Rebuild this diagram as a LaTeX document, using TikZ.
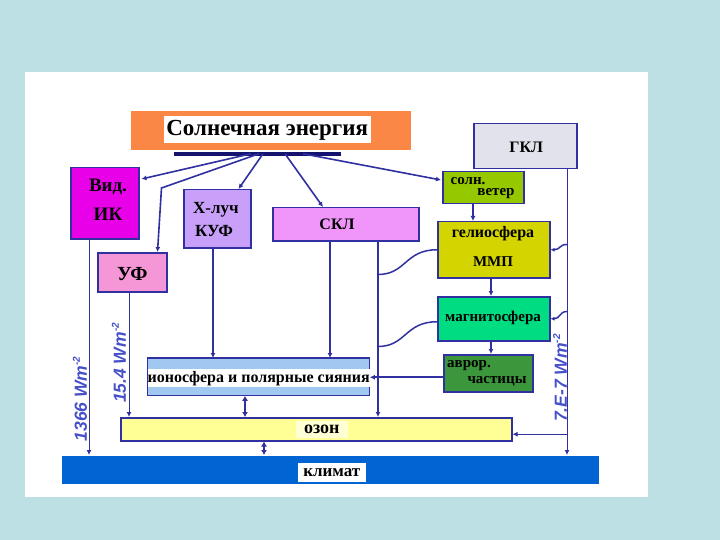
\documentclass[tikz,border=0pt]{standalone}
\usepackage{fontspec}
\setmainfont{Liberation Serif}
\newfontfamily\lblfont{Liberation Sans}
\usetikzlibrary{arrows.meta,calc}
\definecolor{bgc}{RGB}{188,224,228}
\definecolor{navy}{RGB}{48,48,160}
\definecolor{darknavy}{RGB}{20,20,110}
\definecolor{sunc}{RGB}{250,135,70}
\definecolor{vidc}{RGB}{232,0,232}
\definecolor{ufc}{RGB}{245,150,215}
\definecolor{xrc}{RGB}{200,160,250}
\definecolor{sklc}{RGB}{240,150,250}
\definecolor{gklc}{RGB}{226,226,236}
\definecolor{swc}{RGB}{150,200,0}
\definecolor{helc}{RGB}{212,212,0}
\definecolor{magc}{RGB}{0,220,130}
\definecolor{avrc}{RGB}{60,150,60}
\definecolor{ionc}{RGB}{160,200,240}
\definecolor{ozc}{RGB}{255,255,150}
\definecolor{klc}{RGB}{0,100,210}
\definecolor{lblc}{RGB}{70,80,200}
\newcommand{\fs}[1]{\bfseries\fontsize{#1}{#1}\selectfont}
\newcommand{\supm}{\raisebox{0.75ex}{\fontsize{10}{10}\selectfont -2}}
\begin{document}
\begin{tikzpicture}[x=1pt,y=-1pt,
  box/.style={draw=navy, line width=1.5pt, inner sep=0pt, anchor=north west},
  txt/.style={inner sep=0pt, font=\bfseries, text=black},
  arr/.style={draw=navy, line width=1.6pt, -{Latex[length=5pt,width=5pt]}},
  thinarr/.style={draw=navy, line width=1pt, -{Latex[length=5pt,width=5pt]}},
  dblarr/.style={draw=navy, line width=1.6pt, {Latex[length=5pt,width=6pt]}-{Latex[length=5pt,width=6pt]}},
  wave/.style={draw=navy, line width=1.5pt},
  lbl/.style={rotate=90, inner sep=0pt, text=lblc, font=\lblfont\bfseries\itshape\fontsize{17.5}{17.5}\selectfont}]
\useasboundingbox (0,0) rectangle (720,540);
\fill[bgc] (0,0) rectangle (720,540);
\fill[white] (25,72) rectangle (648,497);

% sun
\node[box, draw=none, fill=sunc, minimum width=280, minimum height=39] (sun) at (130,110) {};
\node[box, draw=none, fill=white, minimum width=207, minimum height=27] (sunlbl) at (163,115) {};
\node[txt, font=\fs{23}] (suntxt) at ($(sunlbl.center)+(0,1)$) {Солнечная энергия};
\node[box, draw=none, fill=darknavy, minimum width=167, minimum height=4] (bar) at (173,151) {};

% boxes
\node[box, fill=vidc, minimum width=68, minimum height=71] (vid) at (70,167) {};
\node[txt, font=\fs{19}] (vidtxt1) at (108,187) {Вид.};
\node[txt, font=\fs{19}] (vidtxt2) at (108,214) {ИК};
\node[box, fill=ufc, minimum width=69, minimum height=39] (uf) at (97,252) {};
\node[txt, font=\fs{20}] (uftxt) at ($(uf.center)+(0,2)$) {УФ};
\node[box, fill=xrc, minimum width=67, minimum height=58] (xr) at (183,189) {};
\node[txt, font=\fs{17}] (xrtxt1) at (216,210) {Х-луч};
\node[txt, font=\fs{17}] (xrtxt2) at (214,231) {КУФ};
\node[box, fill=sklc, minimum width=146, minimum height=33] (skl) at (272,207) {};
\node[txt, font=\fs{16}] (skltxt) at (337,224) {СКЛ};
\node[box, fill=gklc, minimum width=103, minimum height=45] (gkl) at (473,123) {};
\node[txt, font=\fs{16}] (gkltxt) at ($(gkl.center)+(1,1)$) {ГКЛ};
\node[box, fill=swc, minimum width=81, minimum height=32] (sw) at (442,171) {};
\node[txt, font=\fs{15}] (swtxt1) at (468,181) {солн.};
\node[txt, font=\fs{15}] (swtxt2) at (496,194) {ветер};
\node[box, fill=helc, minimum width=112, minimum height=56] (hel) at (437,221) {};
\node[txt, font=\fs{16}] (heltxt1) at (493,234) {гелиосфера};
\node[txt, font=\fs{15}] (heltxt2) at (493,262) {ММП};
\node[box, fill=magc, minimum width=112, minimum height=44] (mag) at (437,296) {};
\node[txt, font=\fs{15}] (magtxt) at (493,318) {магнитосфера};
\node[box, fill=avrc, minimum width=89, minimum height=37] (avr) at (443,354) {};
\node[txt, font=\fs{15}] (avrtxt1) at (469,366) {авpор.};
\node[txt, font=\fs{15}] (avrtxt2) at (497,381) {частицы};

% ionosphere
\node[box, draw=navy, line width=0.8pt, fill=ionc, minimum width=222, minimum height=37] (ion) at (147,358) {};
\draw[navy, line width=2pt] (ion.north west) -- (ion.north east);
\node[box, draw=none, fill=white, minimum width=222, minimum height=18] (ionband) at (147,368) {};
\node[txt, font=\fs{16}] (iontxt) at ($(ionband.center)+(0,1)$) {ионосфера и полярные сияния};

% ozone
\node[box, fill=ozc, minimum width=391, minimum height=23] (oz) at (120,417) {};
\node[box, draw=none, fill=white!60!ozc, minimum width=52, minimum height=17] (ozlbl) at (295,420) {};
\node[txt, font=\fs{18}] (oztxt) at ($(ozlbl.center)+(0,0)$) {озон};

% climate
\node[box, draw=none, fill=klc, minimum width=537, minimum height=28] (kl) at (61,455) {};
\node[box, draw=none, fill=white, minimum width=68, minimum height=19] (kllbl) at (297,462) {};
\node[txt, font=\fs{17}] (kltxt) at ($(kllbl.center)+(0,0)$) {климат};

% coordinates on the bar
\coordinate (s1) at ($(bar.west)+(78,0)$);
\coordinate (s2) at ($(bar.west)+(86,0)$);
\coordinate (s3) at ($(bar.west)+(90,0)$);
\coordinate (s4) at ($(bar.west)+(112,0)$);
\coordinate (s5) at ($(bar.west)+(130,0)$);

% arrows from the sun
\draw[arr] (s1) -- ($(vid.north east)+(2,12)$);
\coordinate (ufb) at ($(uf.north east)+(-10,-64)$);
\draw[arr] (s2) -- ($(ufb)+(4,0)$) -- ($(uf.north east)+(-10,0)$);
\draw[arr] (s3) -- ($(xr.north east)+(-13,0)$);
\draw[arr] (s4) -- ($(skl.north west)+(51,0)$);
\draw[arr] (s5) -- ($(sw.north west)+(-1,9)$);

% verticals
\coordinate (v1) at ($(vid.south west)+(19,0)$);
\draw[thinarr] (v1) -- (v1 |- kl.north);
\coordinate (v2) at ($(uf.south west)+(32,0)$);
\draw[thinarr] (v2) -- (v2 |- oz.north);
\coordinate (v3) at ($(xr.south west)+(30,0)$);
\draw[arr, line width=2.2pt] (v3) -- (v3 |- ion.north);
\coordinate (v4) at ($(skl.south west)+(58,0)$);
\draw[arr] (v4) -- (v4 |- ion.north);
\coordinate (v5) at ($(skl.south west)+(106,0)$);
\draw[arr] (v5) -- (v5 |- oz.north);
\coordinate (v6) at ($(sw.south west)+(31,0)$);
\draw[arr] (v6) -- (v6 |- hel.north);
\coordinate (v7) at ($(hel.south west)+(54,0)$);
\draw[arr] (v7) -- (v7 |- mag.north);
\coordinate (v8) at ($(mag.south west)+(54,0)$);
\draw[arr] (v8) -- (v8 |- avr.north);
\coordinate (v9) at ($(gkl.south west)+(94,0)$);
\draw[thinarr] (v9) -- (v9 |- kl.north);
\coordinate (v10) at ($(v9 |- oz.east)+(0,5)$);
\draw[thinarr, line width=1.2pt] (v10) -- (v10 -| oz.east);

% aurora particles to ionosphere
\coordinate (a1) at ($(avr.west)+(0,4)$);
\draw[arr] (a1) -- (a1 -| ion.east);

% double arrows
\coordinate (d1) at ($(ion.south west)+(98,0)$);
\draw[dblarr] (d1) -- (d1 |- oz.north);
\coordinate (d2) at ($(oz.south west)+(144,0)$);
\draw[dblarr] (d2) -- (d2 |- kl.north);

% wavy links
\coordinate (w1) at ($(v5)+(0,33)$);
\draw[wave] (w1) .. controls ($(w1)+(28,0)$) and ($(hel.west)+(-32,0)$) .. (hel.west);
\coordinate (w2) at ($(v5)+(0,105)$);
\draw[wave] (w2) .. controls ($(w2)+(28,0)$) and ($(mag.west)+(-32,3)$) .. ($(mag.west)+(0,3)$);
\coordinate (w3) at ($(v9)+(0,75)$);
\draw[wave, -{Latex[length=4pt,width=4pt]}] (w3) .. controls ($(w3)+(-8,0)$) and ($(hel.east)+(10,0)$) .. (hel.east);
\coordinate (w4) at ($(v9)+(0,142)$);
\draw[wave, -{Latex[length=4pt,width=4pt]}] (w4) .. controls ($(w4)+(-8,0)$) and ($(mag.east)+(10,0)$) .. (mag.east);

% rotated labels
\node[lbl] (l1) at (80,399) {1366 Wm\supm};
\node[lbl] (l2) at (119,363) {15.4 Wm\supm};
\node[lbl] (l3) at (560,378) {7.E-7 Wm\supm};
\end{tikzpicture}
\end{document}
